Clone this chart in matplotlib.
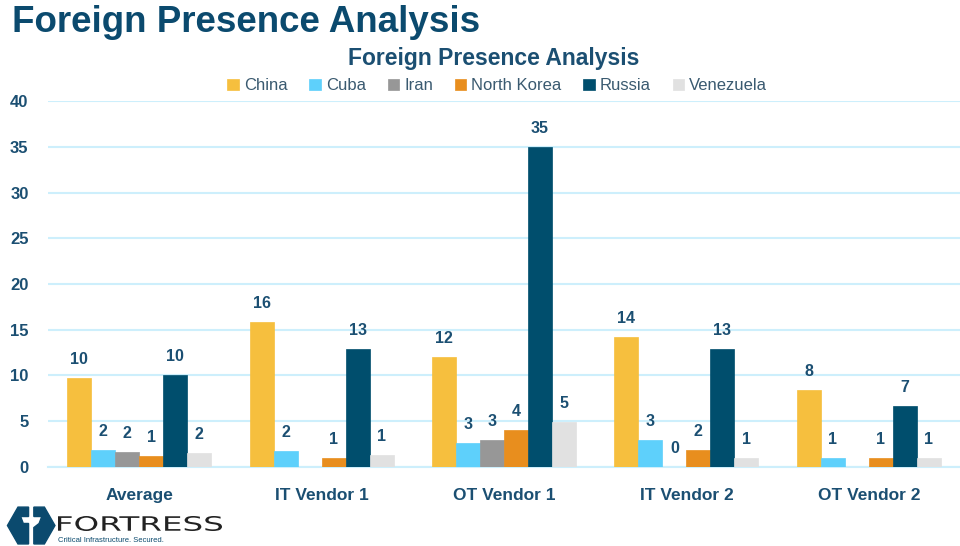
import numpy as np
import matplotlib
matplotlib.use("Agg")
import matplotlib.pyplot as plt
from matplotlib.patches import Polygon, PathPatch
from matplotlib.textpath import TextPath
from matplotlib.font_manager import FontProperties
from matplotlib.transforms import Affine2D

categories = ["Average", "IT Vendor 1", "OT Vendor 1", "IT Vendor 2", "OT Vendor 2"]
series_names = ["China", "Cuba", "Iran", "North Korea", "Russia", "Venezuela"]
china = [9.7, 15.8, 12.0, 14.2, 8.4]
cuba = [1.9, 1.7, 2.6, 2.9, 1.0]
iran = [1.6, np.nan, 2.9, 0.0, np.nan]
north_korea = [1.2, 1.0, 4.0, 1.9, 1.0]
russia = [10.1, 12.9, 35.0, 12.9, 6.7]
venezuela = [1.5, 1.3, 4.9, 1.0, 1.0]
series_values = [china, cuba, iran, north_korea, russia, venezuela]
colors = ["#F6BF3E", "#5ED0FB", "#979797", "#E88E1E", "#004E6D", "#E1E1E1"]
yticks = [0, 5, 10, 15, 20, 25, 30, 35, 40]

plt.rcParams['font.family'] = ['Liberation Sans', 'DejaVu Sans']
text_blue = "#1B4F72"

fig = plt.figure(figsize=(9.6, 5.46), dpi=100)
ax = fig.add_axes([0.05, 0.1447, 0.95, 0.6703])

x = np.arange(len(categories))
bw = 0.1316
for i, (name, vals, c) in enumerate(zip(series_names, series_values, colors)):
    offs = (i - 2.5) * bw
    v = np.array(vals, dtype=float)
    ax.bar(x + offs, np.nan_to_num(v), bw, color=c, label=name, zorder=3,
           edgecolor=c, linewidth=0.5)
    for xi, vi in zip(x + offs, v):
        if np.isnan(vi):
            continue
        ax.text(xi, vi + 1.2, f"{int(np.floor(vi + 0.5))}", ha="center", va="bottom",
                fontsize=11.5, fontweight="bold", color=text_blue)

ax.set_xlim(-0.5, 4.5)
ax.set_ylim(0, 40)
ax.set_yticks(yticks)
ax.set_yticklabels([str(t) for t in yticks])
ax.set_xticks(x)
ax.set_xticklabels(categories)
ax.yaxis.grid(True, color="#CDEFFC", linewidth=1.5, zorder=0)
ax.set_axisbelow(True)
for s in ["top", "right", "left"]:
    ax.spines[s].set_visible(False)
ax.spines["bottom"].set_color("#CDEFFC")
ax.spines["bottom"].set_linewidth(1.5)
ax.tick_params(axis="y", length=0, labelsize=12, labelcolor=text_blue, pad=14)
ax.tick_params(axis="x", length=0, labelsize=12.5, labelcolor=text_blue, pad=15)
for lab in ax.get_xticklabels() + ax.get_yticklabels():
    lab.set_fontweight("bold")

fig.text(0.013, 0.958, "Foreign Presence Analysis", fontsize=26.5, fontweight="bold",
         color="#0B4A6E", ha="left", va="center")
fig.text(0.514, 0.893, "Foreign Presence Analysis", fontsize=16.5, fontweight="bold",
         color="#1B4F72", ha="center", va="center")

leg = fig.legend(loc="center", bbox_to_anchor=(0.518, 0.843), ncol=6, frameon=False,
                 fontsize=12, handlelength=0.7, handleheight=0.7, handletextpad=0.3,
                 columnspacing=1.3)
for t in leg.get_texts():
    t.set_color("#3A5A70")

# Logo
lax = fig.add_axes([0.005, 0.0, 0.055, 0.075])
lax.set_xlim(0, 1)
lax.set_ylim(0, 1)
lax.axis("off")
lax.add_patch(Polygon([[0.05, 0.5], [0.25, 0.95], [0.45, 0.95], [0.45, 0.72], [0.3, 0.72],
                       [0.35, 0.55], [0.45, 0.55], [0.45, 0.05], [0.25, 0.05]],
                      closed=True, color="#0B4A6E"))
lax.add_patch(Polygon([[0.95, 0.5], [0.75, 0.95], [0.55, 0.95], [0.55, 0.72], [0.7, 0.72],
                       [0.65, 0.55], [0.55, 0.45], [0.55, 0.05], [0.75, 0.05]],
                      closed=True, color="#0B4A6E"))

tax = fig.add_axes([0, 0, 1, 1], facecolor="none")
tax.set_xlim(0, 960)
tax.set_ylim(0, 546)
tax.axis("off")
tp = TextPath((0, 0), "FORTRESS", size=15, prop=FontProperties(family="DejaVu Sans"))
bb = tp.get_extents()
sx = (222 - 58) / bb.width
sy = 15 / bb.height
trans = Affine2D().translate(-bb.x0, -bb.y0).scale(sx, sy).translate(58, 546 - 531)
tax.add_patch(PathPatch(trans.transform_path(tp), color="#222222", lw=0))
fig.text(58 / 960, 1 - 540 / 546, "Critical Infrastructure. Secured.", fontsize=5.5,
         color="#0B4A6E", ha="left", va="center")

fig.savefig("out.png", dpi=100, facecolor="white")
